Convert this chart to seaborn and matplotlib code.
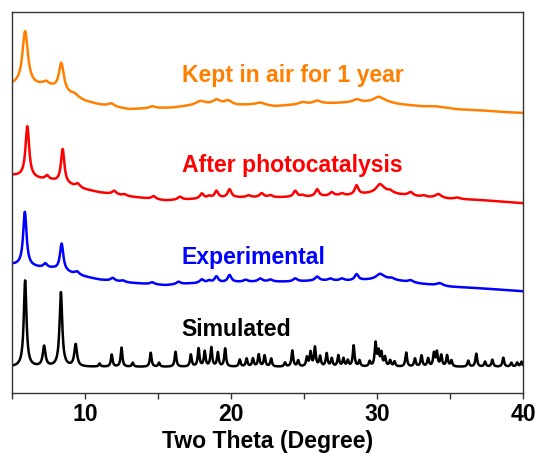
import numpy as np
import pandas as pd
import matplotlib
matplotlib.use("Agg")
import matplotlib.pyplot as plt
import seaborn as sns

# ---------------- data ----------------
# y values are in arbitrary intensity units (stacked patterns)
# Simulated pattern: peak positions (2theta), heights
sim_pos = [5.9, 7.2, 8.35, 9.36, 11.0, 11.83, 12.5, 13.27, 14.5, 15.07, 16.2,
           17.25, 17.78, 18.2, 18.65, 19.1, 19.6, 20.6, 21.07, 21.5, 21.9, 22.3,
           22.75, 23.7, 24.2, 24.6, 25.2, 25.45, 25.75, 26.1, 26.55, 26.9, 27.35,
           27.7, 28.0, 28.4, 28.8, 29.5, 29.9, 30.1, 30.3, 30.55, 30.9, 31.2,
           32.0, 32.6, 33.05, 33.5, 33.9, 34.1, 34.4, 34.8, 35.1, 36.25, 36.8,
           37.4, 37.9, 38.65, 39.2, 39.6, 39.9]
sim_h = [86, 20, 74, 22, 3, 12, 19, 4, 14, 4, 15,
         12, 18, 15, 19, 14, 18, 7, 8, 8, 12, 11,
         8, 4, 16, 6, 9, 14, 19, 10, 13, 8, 11,
         8, 6, 21, 6, 5, 23, 14, 13, 9, 6, 5,
         14, 8, 11, 8, 13, 14, 11, 11, 6, 6, 13,
         5, 7, 9, 4, 4, 5]
sim_base_x = [5, 40]
sim_base_y = [34, 34]

# Experimental (blue)
exp_pos = [5.88, 7.28, 8.4, 9.45, 11.9, 12.6, 14.6, 16.4, 18.0, 18.5, 19.0, 19.9,
           21.0, 22.0, 22.7, 24.4, 25.9, 26.8, 27.6, 28.6, 30.2, 31.0, 32.3, 34.3]
exp_h = [54, 4, 27, 3, 3, 1.5, 2, 2.5, 3.5, 2, 6, 7,
         2, 3, 2, 3, 4, 2, 2, 6, 5, 1.5, 2, 2.5]
exp_w = [0.28, 0.3, 0.28, 0.35, 0.35, 0.35, 0.35, 0.35, 0.35, 0.3, 0.3, 0.3,
         0.35, 0.35, 0.35, 0.35, 0.35, 0.35, 0.35, 0.3, 0.6, 0.4, 0.4, 0.5]
exp_base_x = [5.0, 6.9, 7.8, 9.0, 10, 11, 13, 15.5, 17, 20, 22, 24, 26, 28, 29.5,
              30.5, 31.5, 33, 35, 37, 40]
exp_base_y = [136, 133, 132, 127.5, 124, 121, 118, 115.5, 117, 118.5, 119, 119,
              120, 120, 121, 122, 120, 117, 114, 112.5, 109.5]

# After photocatalysis (red)
red_pos = [6.05, 7.4, 8.47, 9.5, 12.0, 12.7, 14.7, 16.5, 18.0, 18.5, 19.0, 19.9,
           21.2, 22.1, 22.7, 24.4, 24.9, 25.9, 26.9, 27.6, 28.6, 30.2, 30.9,
           32.3, 33.2, 34.2, 35.5]
red_h = [51, 4, 34, 3.5, 3.5, 1.5, 3, 3, 5, 2, 7, 8,
         2, 4, 2, 6, 1.5, 7, 3.5, 2, 9, 8, 2,
         3.5, 1.5, 4, 1.5]
red_w = [0.3, 0.3, 0.28, 0.35, 0.35, 0.35, 0.35, 0.35, 0.3, 0.3, 0.3, 0.3,
         0.35, 0.35, 0.35, 0.3, 0.3, 0.3, 0.35, 0.35, 0.3, 0.6, 0.4,
         0.4, 0.4, 0.5, 0.5]
red_base_x = [5.0, 7.0, 7.8, 9.0, 10, 11, 13, 15.5, 17, 20, 23, 26, 28, 29.5,
              30.5, 31.5, 33, 35, 37, 40]
red_base_y = [225, 221, 219.5, 215, 211, 208, 204, 200, 201, 203, 203, 204, 205,
              207, 208.5, 206, 203.5, 201.5, 200.5, 197.3]

# Kept in air for 1 year (orange)
ora_pos = [5.9, 7.33, 8.38, 9.3, 11.8, 14.6, 17.9, 19.0, 19.8, 22.0, 24.9, 25.9,
           28.6, 30.1]
ora_h = [54, 4, 28, 2.5, 3, 2, 4, 4, 4, 1.5, 2, 3, 3, 5]
ora_w = [0.45, 0.5, 0.4, 0.5, 0.5, 0.5, 0.8, 0.6, 0.6, 0.6, 0.6, 0.6, 0.6, 0.8]
ora_base_x = [5.0, 7.0, 7.8, 9.0, 10, 11, 13, 15, 16, 17, 19, 20.5, 22, 23, 25,
              27, 28, 29.5, 30.5, 31.5, 33, 34, 35.5, 37, 38.6, 40]
ora_base_y = [315, 314, 312, 305, 299, 295.5, 291, 292, 292.5, 294, 296, 295, 296,
              294, 296, 297, 297.5, 298, 298.5, 296, 294, 294, 291, 290, 288.3,
              287.3]

labels = ["Kept in air for 1 year", "After photocatalysis", "Experimental", "Simulated"]
colors = ["#FF8000", "#FF0000", "#0000FF", "#000000"]
label_x = [16.62, 16.62, 16.62, 16.62]
label_y = [318, 228.3, 136.7, 65]

x_ticks = [10, 20, 30, 40]
x_minor = [5, 15, 25, 35]
x_label = "Two Theta (Degree)"

# ---------------- build curves ----------------
x = np.linspace(5, 40, 3501)


def pattern(pos, h, w, bx, by):
    y = np.interp(x, bx, by)
    for p, a, f in zip(pos, h, w):
        g = f / 2.0
        y = y + a * g * g / ((x - p) ** 2 + g * g)
    return y


sim_w = [0.22 if p < 10 else 0.14 for p in sim_pos]
curves = [
    pattern(ora_pos, ora_h, ora_w, ora_base_x, ora_base_y),
    pattern(red_pos, red_h, red_w, red_base_x, red_base_y),
    pattern(exp_pos, exp_h, exp_w, exp_base_x, exp_base_y),
    pattern(sim_pos, sim_h, sim_w, sim_base_x, sim_base_y),
]

frames = []
for lab, yy in zip(labels, curves):
    frames.append(pd.DataFrame({"theta": x, "I": yy, "sample": lab}))
df = pd.concat(frames, ignore_index=True)

# ---------------- plot ----------------
sns.set_theme(style="ticks")
plt.rcParams["font.family"] = ["Liberation Sans", "DejaVu Sans"]

fig = plt.figure(figsize=(5.37, 4.59), dpi=100)
ax = fig.add_axes([12 / 537, 1 - 393 / 459, (523 - 12) / 537, (393 - 12) / 459])

sns.lineplot(data=df, x="theta", y="I", hue="sample", palette=dict(zip(labels, colors)),
             estimator=None, sort=False, linewidth=1.8, legend=False, ax=ax)

for lab, c, tx, ty in zip(labels, colors, label_x, label_y):
    ax.text(tx, ty, lab, color=c, fontsize=16.6, fontweight="bold",
            ha="left", va="baseline")

ax.set_xlim(5, 40)
ax.set_ylim(8, 388)
ax.set_yticks([])
ax.set_ylabel("")
ax.set_xticks(x_ticks)
ax.set_xticks(x_minor, minor=True)
ax.set_xticklabels([str(t) for t in x_ticks], fontsize=16.6, fontweight="bold",
                   color="black")
ax.tick_params(axis="x", which="both", direction="out", length=4, width=1.0,
               color="#333333", pad=3)
ax.set_xlabel(x_label, fontsize=16.6, fontweight="bold", labelpad=3, color="black")
for s in ax.spines.values():
    s.set_visible(True)
    s.set_color("#333333")
    s.set_linewidth(1.0)

fig.savefig("out.png", dpi=100)
